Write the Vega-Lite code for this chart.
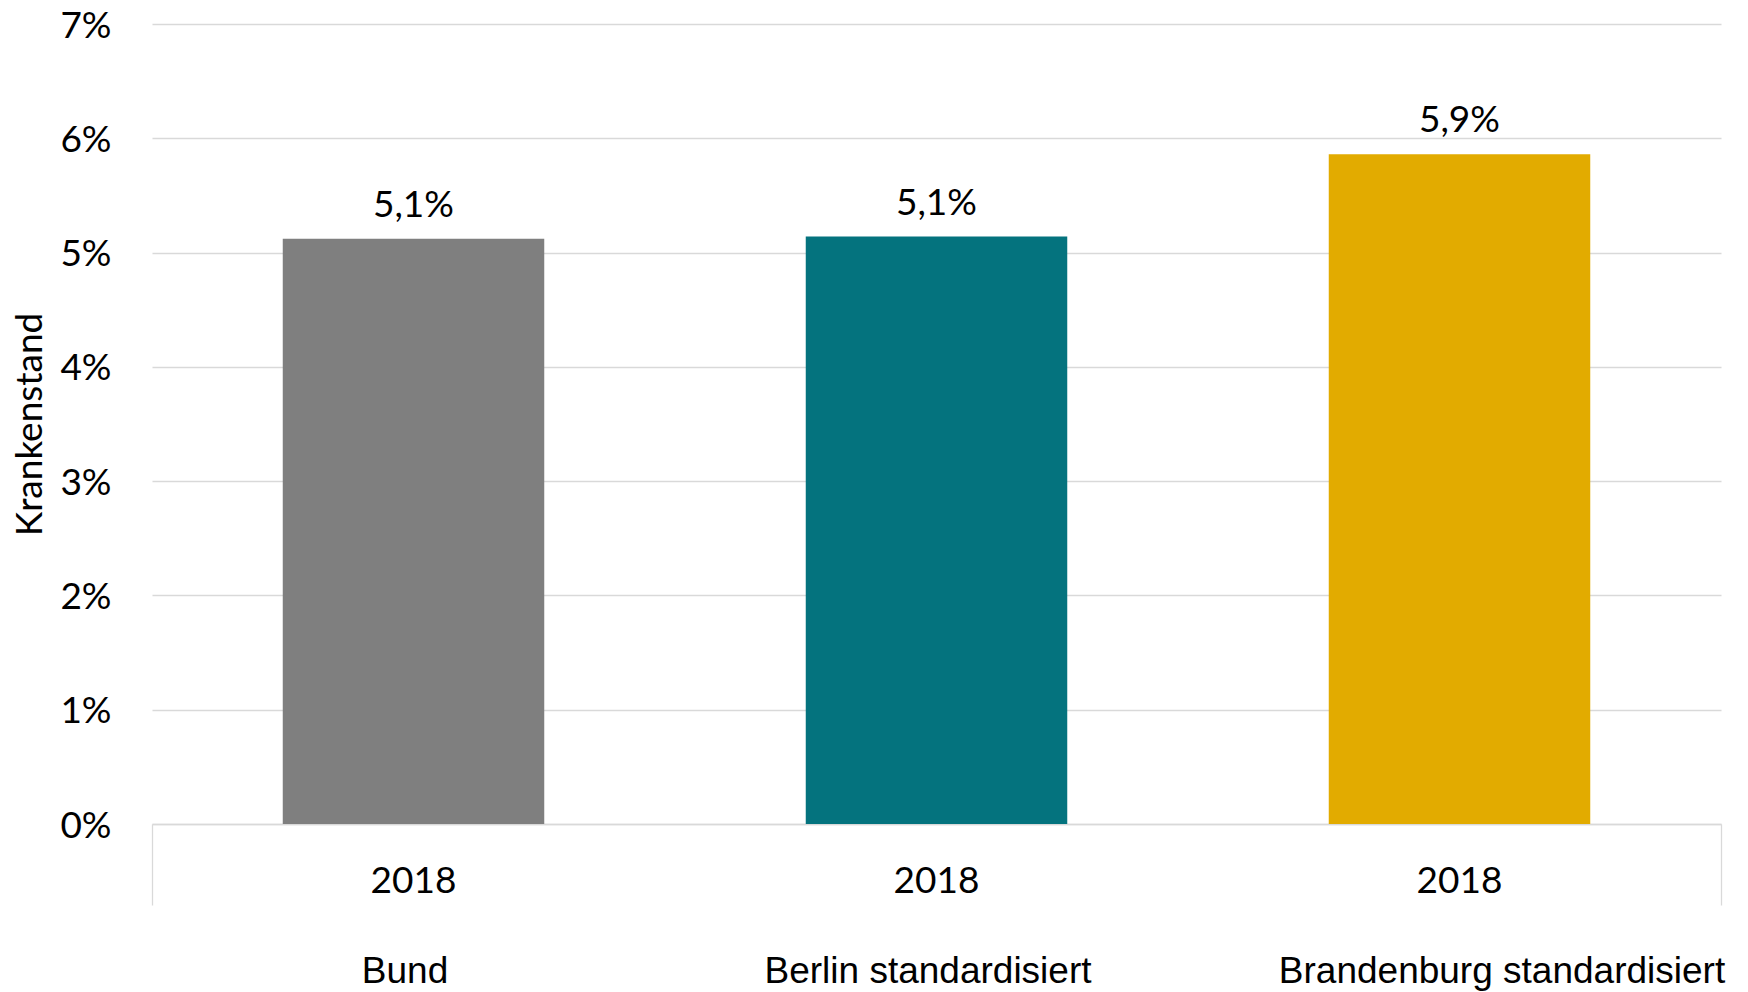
{
  "$schema": "https://vega.github.io/schema/vega-lite/v6.json",
  "width": 1569,
  "height": 800,
  "autosize": {"type": "none"},
  "padding": {"left": 152, "top": 24, "right": 27, "bottom": 168},
  "background": "white",
  "config": {
    "view": {"stroke": null},
    "font": "Lato",
    "locale": {"number": {"decimal": ",", "thousands": ".", "grouping": [3], "currency": ["", " €"]}}
  },
  "data": {
    "values": [
      {"Kategorie": "Bund", "Jahr": "2018", "Krankenstand": 0.0512},
      {"Kategorie": "Berlin standardisiert", "Jahr": "2018", "Krankenstand": 0.0514},
      {"Kategorie": "Brandenburg standardisiert", "Jahr": "2018", "Krankenstand": 0.0586}
    ]
  },
  "encoding": {
    "y": {
      "field": "Krankenstand",
      "type": "quantitative",
      "scale": {"domain": [0, 0.07], "nice": false, "zero": true},
      "axis": {
        "title": "Krankenstand",
        "titleFont": "Lato",
        "titleFontSize": 37,
        "titleFontWeight": "normal",
        "titleColor": "black",
        "titlePadding": 10,
        "values": [0, 0.01, 0.02, 0.03, 0.04, 0.05, 0.06, 0.07],
        "format": ".0%",
        "labelFont": "Lato",
        "labelFontSize": 37,
        "labelColor": "black",
        "labelPadding": 41,
        "labelBaseline": "middle",
        "labelOffset": 2,
        "domain": false,
        "ticks": false,
        "grid": true,
        "gridColor": "#d9d9d9",
        "gridWidth": 1.3
      }
    }
  },
  "layer": [
    {
      "mark": {"type": "bar", "width": {"band": 0.5}},
      "encoding": {
        "x": {
          "field": "Kategorie",
          "type": "nominal",
          "sort": null,
          "scale": {"paddingInner": 0, "paddingOuter": 0},
          "axis": {
            "orient": "bottom",
            "title": null,
            "labelExpr": "'2018'",
            "labelAngle": 0,
            "labelFont": "Lato",
            "labelFontSize": 37,
            "labelColor": "black",
            "labelBaseline": "top",
            "labelPadding": 39,
            "ticks": false,
            "domain": true,
            "domainColor": "#d9d9d9",
            "domainWidth": 1.3,
            "grid": false
          }
        },
        "color": {
          "field": "Kategorie",
          "type": "nominal",
          "sort": null,
          "scale": {
            "domain": ["Bund", "Berlin standardisiert", "Brandenburg standardisiert"],
            "range": ["#7f7f7f", "#04737e", "#e2ab00"]
          },
          "legend": null
        }
      }
    },
    {
      "mark": {"type": "text", "font": "Lato", "fontSize": 37, "color": "black", "align": "center", "baseline": "alphabetic", "dy": -22},
      "encoding": {
        "x": {
          "field": "Kategorie",
          "type": "nominal",
          "sort": null,
          "axis": {
            "orient": "bottom",
            "title": null,
            "labelAngle": 0,
            "labelFont": "Liberation Sans",
            "labelFontSize": 37,
            "labelColor": "black",
            "labelBaseline": "top",
            "labelLimit": 0,
            "labelPadding": 48,
            "labelOffset": {
              "condition": {"test": "datum.value === 'Brandenburg standardisiert'", "value": 42},
              "value": -9
            },
            "domain": false,
            "grid": false,
            "ticks": true,
            "tickBand": "extent",
            "tickSize": 81,
            "tickColor": "#d9d9d9",
            "tickWidth": 1.3,
            "tickOpacity": {
              "condition": {"test": "datum.extra || datum.value === 'Brandenburg standardisiert'", "value": 1},
              "value": 0
            }
          }
        },
        "text": {"field": "Krankenstand", "type": "quantitative", "format": ".1%"}
      }
    }
  ],
  "resolve": {"axis": {"x": "independent"}}
}
